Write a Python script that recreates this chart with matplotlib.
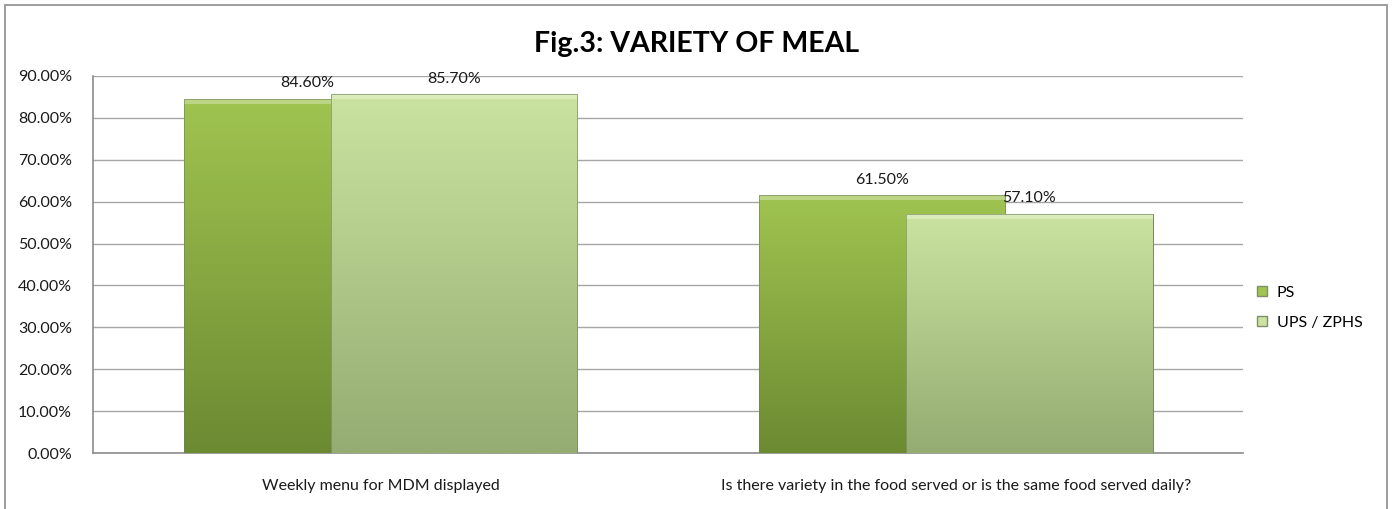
"""
Fig.3: Variety of meal - grouped (overlapping) bar chart, PS vs UPS / ZPHS.
"""

import matplotlib.pyplot as plt
import matplotlib.patches as mpatches
import numpy as np
from matplotlib.colors import LinearSegmentedColormap
from matplotlib.ticker import FuncFormatter, MultipleLocator


# ---------------------------------------------------------------------------
# Data
# ---------------------------------------------------------------------------

categories = [
    "Weekly menu for MDM displayed",
    "Is there variety in the food served or is the same food served daily?",
]
series_names = ["PS", "UPS / ZPHS"]
ps_values = [84.60, 61.50]
ups_values = [85.70, 57.10]

TITLE = "Fig.3: VARIETY OF MEAL"
FONT = "Lato"

# gradient colours (top, bottom) for each series
PS_COLOURS = ("#A0C450", "#6C8A32")
UPS_COLOURS = ("#CBE3A0", "#95AC72")
GRID_COLOUR = "#A6A6A6"

BAR_WIDTH = 0.428
OFFSET = 0.128


def gradient_bars(axis, xs, heights, colours, zorder):
    """Draw bars with a vertical gradient clipped to each bar."""
    bars = axis.bar(xs, heights, width=BAR_WIDTH, color=colours[0],
                    edgecolor="#7F8F6A", linewidth=0.6, zorder=zorder)
    cmap = LinearSegmentedColormap.from_list("g", [colours[1], colours[0]])
    grad = np.linspace(0, 1, 256).reshape(-1, 1)
    for bar in bars:
        x0, y0 = bar.get_x(), bar.get_y()
        w, h = bar.get_width(), bar.get_height()
        image = axis.imshow(grad, cmap=cmap, origin="lower", aspect="auto",
                            extent=(x0, x0 + w, y0, y0 + h), zorder=zorder)
        image.set_clip_path(bar)
        # light bevel at the top of the bar
        axis.add_patch(mpatches.Rectangle((x0, y0 + h - 1.2), w, 1.2,
                                          facecolor="white", alpha=0.3,
                                          edgecolor="none", zorder=zorder))
        edge = mpatches.Rectangle((x0, y0), w, h, facecolor="none",
                                  edgecolor="#6F7F5A", linewidth=0.6,
                                  alpha=0.7, zorder=zorder)
        axis.add_patch(edge)
    return bars


figure = plt.figure(figsize=(13.92, 5.09), dpi=100)
axis = figure.add_axes((0.0668, 0.110, 0.8265, 0.7407))

positions = np.arange(len(categories))
ps_bars = gradient_bars(axis, positions - OFFSET, ps_values, PS_COLOURS, zorder=3)
ups_bars = gradient_bars(axis, positions + OFFSET, ups_values, UPS_COLOURS, zorder=4)

for bars, values in ((ps_bars, ps_values), (ups_bars, ups_values)):
    for bar, value in zip(bars, values):
        axis.annotate(f"{value:.2f}%",
                      (bar.get_x() + bar.get_width() / 2, bar.get_height()),
                      xytext=(0, 6), textcoords="offset points",
                      ha="center", va="bottom", fontsize=11.5,
                      family=FONT, color="#1A1A1A", zorder=6)

axis.set_xlim(-0.5, len(categories) - 0.5)
axis.set_ylim(0, 90)
axis.yaxis.set_major_locator(MultipleLocator(10))
axis.yaxis.set_major_formatter(FuncFormatter(lambda v, _: f"{v:.2f}%"))
axis.set_xticks(positions)
axis.set_xticklabels(categories, family=FONT, fontsize=11.5)
for label in axis.get_yticklabels():
    label.set_family(FONT)
    label.set_fontsize(11.5)
axis.tick_params(axis="both", length=0, colors="#1A1A1A")
axis.tick_params(axis="x", pad=19)
axis.tick_params(axis="y", pad=15)

axis.grid(axis="y", color=GRID_COLOUR, linewidth=1.0, zorder=0)
axis.set_axisbelow(True)
for side in ("top", "right"):
    axis.spines[side].set_visible(False)
for side in ("left", "bottom"):
    axis.spines[side].set_color("#8C8C8C")
    axis.spines[side].set_linewidth(1.2)

# title
figure.text(0.5005, 0.913, TITLE, ha="center", va="center",
            fontsize=20.5, fontweight="bold", family=FONT, color="black")

# legend
handles = [
    mpatches.Patch(facecolor=PS_COLOURS[0], edgecolor="#7F8F6A", label=series_names[0]),
    mpatches.Patch(facecolor=UPS_COLOURS[0], edgecolor="#7F8F6A", label=series_names[1]),
]
figure.legend(handles=handles, loc="center left", bbox_to_anchor=(0.893, 0.395),
              frameon=False, prop={"family": FONT, "size": 11.5},
              handlelength=0.6, handleheight=0.6, handletextpad=0.6,
              labelspacing=1.0)

# outer chart border (cut off at the bottom edge like the source)
figure.patches.append(mpatches.Rectangle(
    (5 / 1392, -0.05), 1382 / 1392, 1.05 - 5 / 509,
    transform=figure.transFigure, fill=False, edgecolor="#8C8C8C",
    linewidth=1.2))

figure.savefig("out.png", dpi=100)
